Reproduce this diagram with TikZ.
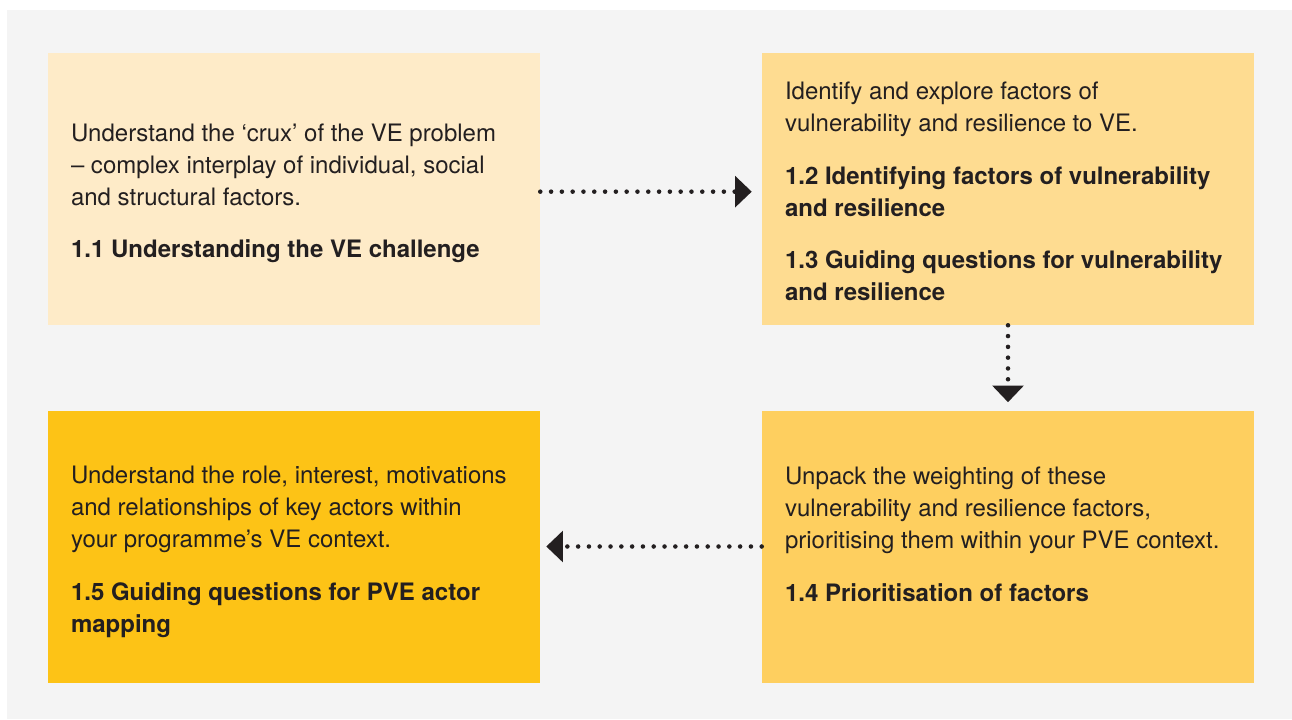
\documentclass[tikz,border=0pt]{standalone}
\usepackage{fontspec}
\setmainfont{TeX Gyre Heros}
\usepackage{xcolor}
\usepackage{tikz}
\usetikzlibrary{arrows.meta,positioning,calc}

\definecolor{bggray}{HTML}{F4F4F4}
\definecolor{ink}{HTML}{231F20}
\definecolor{paleA}{HTML}{FEEBC8}
\definecolor{paleB}{HTML}{FEDC91}
\definecolor{paleC}{HTML}{FECF5F}
\definecolor{paleD}{HTML}{FDC316}

\newcommand{\parskp}{\\[15.5pt]}

\begin{document}
\begin{tikzpicture}[x=0.75pt, y=0.75pt,
    box/.style={draw=none, minimum width=369pt, minimum height=204pt, inner sep=0pt},
    txt/.style={anchor=base west, inner sep=0pt, align=left, text=ink,
        font=\fontsize{18}{24}\selectfont},
    flow/.style={draw=ink, line width=3.4pt, line cap=round,
        dash pattern=on 0pt off 8.1pt,
        -{Triangle[length=12.5pt, width=23pt]}}]
    % Frame
    \useasboundingbox (0,0) rectangle (1292,719);
    \fill[bggray] (7,0) rectangle (1292,709);

    % Boxes
    \node[box, fill=paleA] (crux) at (294,530) {};
    \node[box, fill=paleB] (factors) at (1008,530) {};
    \node[box, fill=paleC] (prioritise) at (1008,172.5) {};
    \node[box, fill=paleD] (actors) at (294,172.5) {};

    % Box texts (placed by the baseline of their last line)
    \node[txt] (crux-t) at ([shift={(23,-205)}]crux.north west)
        {Understand the ‘crux’ of the VE problem\\
         – complex interplay of individual, social\\
         and structural factors.\parskp
         \textbf{1.1 Understanding the VE challenge}};
    \node[txt] (factors-t) at ([shift={(23,-248)}]factors.north west)
        {Identify and explore factors of\\
         vulnerability and resilience to VE.\parskp
         \textbf{1.2 Identifying factors of vulnerability}\\
         \textbf{and resilience}\parskp
         \textbf{1.3 Guiding questions for vulnerability}\\
         \textbf{and resilience}};
    \node[txt] (prioritise-t) at ([shift={(23,-191)}]prioritise.north west)
        {Unpack the weighting of these\\
         vulnerability and resilience factors,\\
         prioritising them within your PVE context.\parskp
         \textbf{1.4 Prioritisation of factors}};
    \node[txt] (actors-t) at ([shift={(23,-222)}]actors.north west)
        {Understand the role, interest, motivations\\
         and relationships of key actors within\\
         your programme’s VE context.\parskp
         \textbf{1.5 Guiding questions for PVE actor}\\
         \textbf{mapping}};

    % Connectors
    \draw[flow, shorten >=7.5pt] ([yshift=-2]crux.east) -- ([yshift=-2]factors.west);
    \draw[flow, shorten >=6pt] (factors.south) -- (prioritise.north);
    \draw[flow, shorten >=4.5pt] (prioritise.west) -- (actors.east);
\end{tikzpicture}
\end{document}
